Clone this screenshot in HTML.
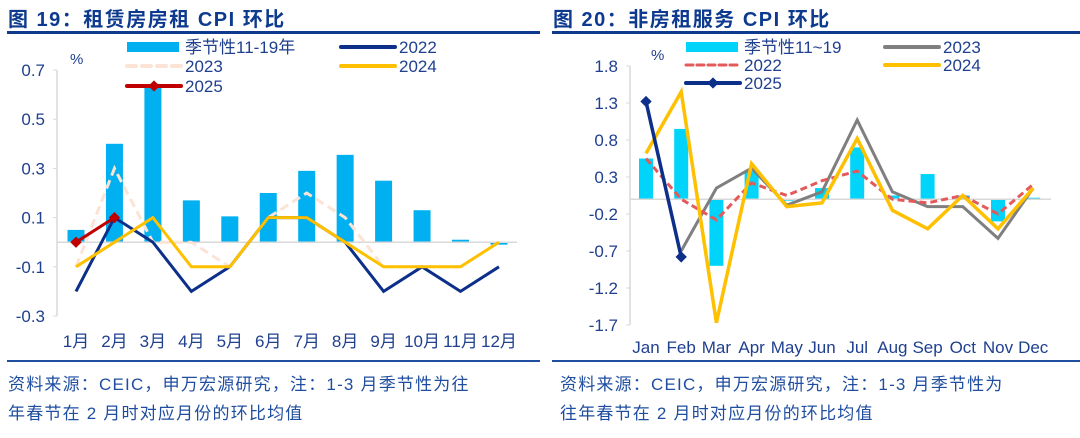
<!DOCTYPE html>
<html><head><meta charset="utf-8"><style>
body{margin:0;background:#fff;width:1080px;height:433px;overflow:hidden;font-family:"Liberation Sans","Noto Sans CJK SC",sans-serif}
</style></head><body>
<svg id="s" width="1080" height="433" xmlns="http://www.w3.org/2000/svg" font-family="Liberation Sans, Noto Sans CJK SC, sans-serif">
<text x="8" y="26" font-size="20" font-weight="bold" fill="#0d3a8f" letter-spacing="1.5">图 19：租赁房房租 CPI 环比</text>
<rect x="7" y="31" width="533" height="3" fill="#0d3a8f"/>
<rect x="7" y="360" width="533" height="2" fill="#1f4ea0"/>
<text x="8" y="390" font-size="17" letter-spacing="1.2" fill="#1f4ea0">资料来源：CEIC，申万宏源研究，注：1-3 月季节性为往</text>
<text x="8" y="419" font-size="17" letter-spacing="1.2" fill="#1f4ea0">年春节在 2 月时对应月份的环比均值</text>
<text x="553" y="26" font-size="20" font-weight="bold" fill="#0d3a8f" letter-spacing="1.5">图 20：非房租服务 CPI 环比</text>
<rect x="552" y="31" width="528" height="3" fill="#0d3a8f"/>
<rect x="552" y="360" width="528" height="2" fill="#1f4ea0"/>
<text x="560" y="390" font-size="17" letter-spacing="1.2" fill="#1f4ea0">资料来源：CEIC，申万宏源研究，注：1-3 月季节性为</text>
<text x="560" y="419" font-size="17" letter-spacing="1.2" fill="#1f4ea0">往年春节在 2 月时对应月份的环比均值</text>
</svg>
<script>
// Left chart data
const catsL = ["1月","2月","3月","4月","5月","6月","7月","8月","9月","10月","11月","12月"];
const seasL = [0.05,0.4,0.63,0.17,0.105,0.2,0.29,0.355,0.25,0.13,0.01,-0.01];
const l2022 = [-0.2,0.1,0,-0.2,-0.1,0.1,0.1,0,-0.2,-0.1,-0.2,-0.1];
const l2023 = [-0.1,0.3,0,0,-0.1,0.1,0.2,0.1,-0.1,-0.1,-0.1,0];
const l2024 = [-0.1,0,0.1,-0.1,-0.1,0.1,0.1,0,-0.1,-0.1,-0.1,0];
const l2025 = [0,0.1];
const ticksL = [0.7,0.5,0.3,0.1,-0.1,-0.3];
const tickLabelsL = ["0.7","0.5","0.3","0.1","-0.1","-0.3"];
// Right chart data
const catsR = ["Jan","Feb","Mar","Apr","May","Jun","Jul","Aug","Sep","Oct","Nov","Dec"];
const seasR = [0.55,0.95,-0.9,0.38,-0.02,0.15,0.7,0.05,0.34,0.05,-0.3,0.02];
const r2022 = [0.55,0,-0.28,0.22,0.05,0.25,0.38,0,-0.05,0.05,-0.2,0.2];
const r2023 = [null,-0.7,0.15,0.42,-0.08,0.1,1.07,0.1,-0.1,-0.1,-0.53,0.15];
const r2024 = [0.62,1.45,-1.67,0.48,-0.1,-0.05,0.82,-0.15,-0.4,0.05,-0.4,0.15];
const r2025 = [1.32,-0.78];
const ticksR = [1.8,1.3,0.8,0.3,-0.2,-0.7,-1.2,-1.7];
const tickLabelsR = ["1.8","1.3","0.8","0.3","-0.2","-0.7","-1.2","-1.7"];

const S=document.getElementById('s');
const NS="http://www.w3.org/2000/svg";
function mk(t,a){const e=document.createElementNS(NS,t);for(const k in a)e.setAttribute(k,a[k]);S.appendChild(e);return e;}

function chart(o){
  const yy=v=>o.yTop+(o.vmax-v)*o.ppu;
  const x=i=>o.x0+i*o.dx;
  let e=mk('line',{x1:o.ax,y1:yy(o.vmax),x2:o.ax,y2:yy(o.vmin),stroke:'#d9d9d9','stroke-width':1.5});
  
  
  o.ticks.forEach((t,i)=>{
    const tl=mk('line',{x1:o.ax-4,y1:yy(t),x2:o.ax,y2:yy(t),stroke:'#d9d9d9'});
    
    
    const tx=mk('text',{x:o.ax-12,y:yy(t)+6,'font-size':17,fill:'#1f3f8f','text-anchor':'end'});
    tx.textContent=o.tickLabels[i];
    
    
  });
  const pc=mk('text',{x:o.pctX,y:yy(o.vmax)-6,'font-size':15,fill:'#1f3f8f'});pc.textContent='%';
  
  
  o.seas.forEach((v,i)=>{
    const r=mk('rect',{x:x(i)-o.bw/2,y:Math.min(yy(v),yy(0)),width:o.bw,height:Math.abs(yy(v)-yy(0)),fill:o.barColor});
    
    
  });
  e=mk('line',{x1:o.ax,y1:yy(0),x2:o.axEnd,y2:yy(0),stroke:'#d9d9d9','stroke-width':1.5});
  
  
  o.cats.forEach((c,i)=>{
    const t=mk('text',{x:x(i),y:o.catY,'font-size':o.catFs,fill:'#1f3f8f','text-anchor':'middle'});t.textContent=c;
    
    
  });
  o.series.forEach(s=>{
    let d='',pen=false;
    s.v.forEach((v,i)=>{if(v===null){pen=false;return;}d+=(pen?'L':'M')+x(i)+' '+yy(v);pen=true;});
    const p=mk('path',{d:d,fill:'none',stroke:s.c,'stroke-width':s.w,'stroke-dasharray':s.dash||'none','stroke-linejoin':'miter'});
    
    
    if(s.mk) s.v.forEach((v,i)=>{
      const m=mk('rect',{x:x(i)-4,y:yy(v)-4,width:8,height:8,fill:s.c,transform:`rotate(45 ${x(i)} ${yy(v)})`});
      
      
    });
  });
  o.legend.forEach(l=>{
    let g;
    if(l.bar) g=mk('rect',{x:l.x,y:l.y-5,width:52,height:10,fill:o.barColor});
    else g=mk('line',{x1:l.x,y1:l.y,x2:l.x+54,y2:l.y,stroke:l.c,'stroke-width':l.w,'stroke-dasharray':l.dash||'none','stroke-linecap':'round'});
    
    
    if(l.mk){const m=mk('rect',{x:l.x+23,y:l.y-4,width:8,height:8,fill:l.c,transform:`rotate(45 ${l.x+27} ${l.y})`});
      
      }
    const t=mk('text',{x:l.x+58,y:l.y+6,'font-size':17,fill:'#1f3f8f'});t.textContent=l.t;
    
    
  });
}
chart({p:'left',cats:catsL,seas:seasL,ticks:ticksL,tickLabels:tickLabelsL,vmax:0.7,vmin:-0.3,yTop:70,ppu:246,
  x0:76,dx:38.45,ax:57,axEnd:517,bw:17,barColor:'#00b0f0',catY:347,catFs:17,pctX:70,
  series:[{n:'2023',v:l2023,c:'#fbe3d6',w:3,dash:'9 5'},{n:'2022',v:l2022,c:'#0c2f8a',w:3},{n:'2024',v:l2024,c:'#ffc000',w:3},{n:'2025',v:l2025,c:'#c00000',w:3,mk:true}],
  legend:[{bar:1,x:127,y:47,t:'季节性11-19年'},{x:341,y:47,c:'#0c2f8a',w:4,t:'2022'},{x:127,y:66,c:'#fbe3d6',w:4,dash:'9 6',t:'2023'},{x:341,y:66,c:'#ffc000',w:4,t:'2024'},{x:127,y:86,c:'#c00000',w:4,mk:true,t:'2025'}]});
chart({p:'right',cats:catsR,seas:seasR,ticks:ticksR,tickLabels:tickLabelsR,vmax:1.8,vmin:-1.7,yTop:66,ppu:74,
  x0:646,dx:35.2,ax:630,axEnd:1051,bw:14,barColor:'#00d4fa',catY:353,catFs:17,pctX:651,
  series:[{n:'2023',v:r2023,c:'#7f7f7f',w:3},{n:'2022',v:r2022,c:'#e45a5a',w:3,dash:'7 4'},{n:'2024',v:r2024,c:'#ffc000',w:3.5},{n:'2025',v:r2025,c:'#0c2f8a',w:3.5,mk:true}],
  legend:[{bar:1,x:686,y:47,t:'季节性11~19'},{x:885,y:47,c:'#7f7f7f',w:4,t:'2023'},{x:686,y:65,c:'#e45a5a',w:3,dash:'7 4',t:'2022'},{x:885,y:65,c:'#ffc000',w:4,t:'2024'},{x:686,y:83,c:'#0c2f8a',w:4,mk:true,t:'2025'}]});
</script>
</body></html>
